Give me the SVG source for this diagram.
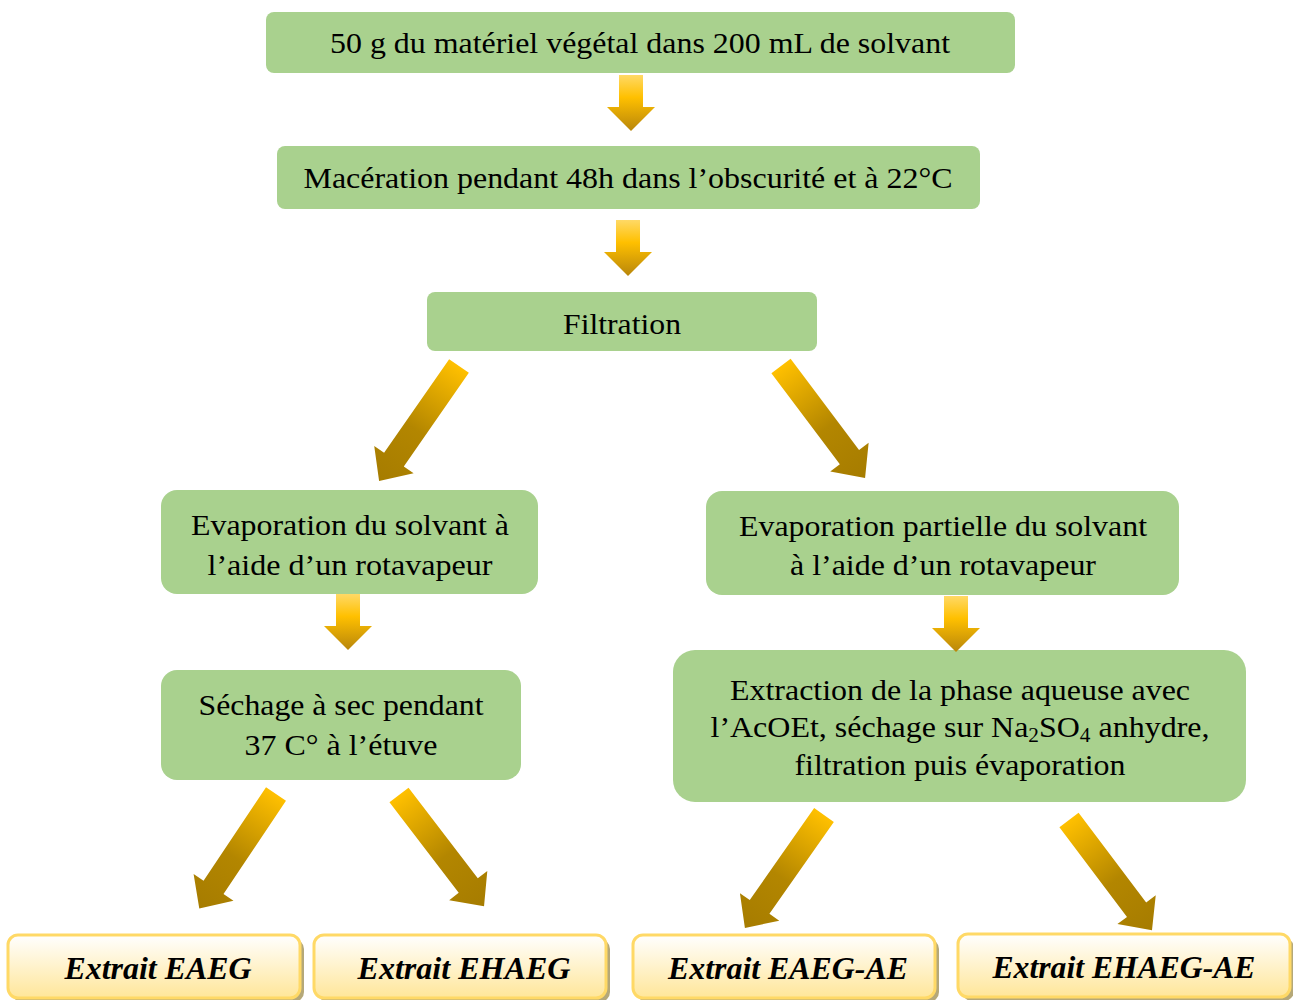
<svg xmlns="http://www.w3.org/2000/svg" width="1293" height="1000" viewBox="0 0 1293 1000">
<defs>
<linearGradient id="ag" x1="0" y1="0" x2="0" y2="1">
<stop offset="0" stop-color="#ffd966"/>
<stop offset="0.4" stop-color="#ffc000"/>
<stop offset="1" stop-color="#b8860b"/>
</linearGradient>
<linearGradient id="dg" x1="0" y1="0" x2="0" y2="1">
<stop offset="0" stop-color="#ffc000"/>
<stop offset="0.55" stop-color="#b38600"/>
<stop offset="1" stop-color="#a67c00"/>
</linearGradient>
<linearGradient id="yg" x1="0" y1="0" x2="0" y2="1">
<stop offset="0" stop-color="#ffffff"/>
<stop offset="1" stop-color="#ffe699"/>
</linearGradient>
<path id="down" d="M-12,0 L12,0 L12,32 L24,32 L0,56 L-24,32 L-12,32 Z"/>
<path id="diag" d="M-12,0 L12,0 L12,114 L24,114 L0,140 L-24,114 L-12,114 Z"/>
</defs>
<style>
.g{fill:#a9d18e}
.t{font-family:"Liberation Serif","Times New Roman",serif;font-size:30px;fill:#000;text-anchor:middle}
.b{font-family:"Liberation Serif","Times New Roman",serif;font-size:31px;font-weight:bold;font-style:italic;fill:#000;text-anchor:middle}
.y{fill:url(#yg);stroke:#ffd966;stroke-width:3}
.s{fill:#b5a878}
.da{fill:url(#ag)}
.dd{fill:url(#dg)}
</style>
<rect width="1293" height="1000" fill="#fff"/>

<g id="n1"><rect class="g" x="266" y="12" width="749" height="61" rx="8"/><text class="t" x="640" y="53" textLength="620" lengthAdjust="spacingAndGlyphs">50 g du matériel végétal dans 200 mL de solvant</text></g>
<g id="n2"><rect class="g" x="277" y="146" width="703" height="63" rx="8"/><text class="t" x="628" y="188" textLength="649" lengthAdjust="spacingAndGlyphs">Macération pendant 48h dans l’obscurité et à 22°C</text></g>
<g id="n3"><rect class="g" x="427" y="292" width="390" height="59" rx="8"/><text class="t" x="622" y="334" textLength="118" lengthAdjust="spacingAndGlyphs">Filtration</text></g>
<g id="n4"><rect class="g" x="161" y="490" width="377" height="104" rx="16"/><text class="t" x="350" y="535" textLength="318" lengthAdjust="spacingAndGlyphs">Evaporation du solvant à</text><text class="t" x="350" y="575" textLength="285" lengthAdjust="spacingAndGlyphs">l’aide d’un rotavapeur</text></g>
<g id="n5"><rect class="g" x="706" y="491" width="473" height="104" rx="16"/><text class="t" x="943" y="536" textLength="408" lengthAdjust="spacingAndGlyphs">Evaporation partielle du solvant</text><text class="t" x="943" y="575" textLength="306" lengthAdjust="spacingAndGlyphs">à l’aide d’un rotavapeur</text></g>
<g id="n6"><rect class="g" x="161" y="670" width="360" height="110" rx="16"/><text class="t" x="341" y="715" textLength="285" lengthAdjust="spacingAndGlyphs">Séchage à sec pendant</text><text class="t" x="341" y="755" textLength="193" lengthAdjust="spacingAndGlyphs">37 C° à l’étuve</text></g>
<g id="n7"><rect class="g" x="673" y="650" width="573" height="152" rx="22"/><text class="t" x="960" y="700" textLength="460" lengthAdjust="spacingAndGlyphs">Extraction de la phase aqueuse avec</text><text class="t" x="960" y="737" textLength="499" lengthAdjust="spacingAndGlyphs">l’AcOEt, séchage sur Na<tspan font-size="20" dy="5">2</tspan><tspan dy="-5">SO</tspan><tspan font-size="20" dy="5">4</tspan><tspan dy="-5"> anhydre,</tspan></text><text class="t" x="960" y="775" textLength="331" lengthAdjust="spacingAndGlyphs">filtration puis évaporation</text></g>

<g id="n8"><rect class="s" x="12" y="939" width="292" height="63" rx="10"/><rect class="y" x="8" y="935" width="292" height="63" rx="10"/><text class="b" x="158" y="979" textLength="187" lengthAdjust="spacingAndGlyphs">Extrait EAEG</text></g>
<g id="n9"><rect class="s" x="318" y="939" width="292" height="63" rx="10"/><rect class="y" x="314" y="935" width="292" height="63" rx="10"/><text class="b" x="464" y="979" textLength="213" lengthAdjust="spacingAndGlyphs">Extrait EHAEG</text></g>
<g id="n10"><rect class="s" x="637" y="939" width="302" height="63" rx="10"/><rect class="y" x="633" y="935" width="302" height="63" rx="10"/><text class="b" x="788" y="979" textLength="240" lengthAdjust="spacingAndGlyphs">Extrait EAEG-AE</text></g>
<g id="n11"><rect class="s" x="962" y="938" width="332" height="63" rx="10"/><rect class="y" x="958" y="934" width="332" height="63" rx="10"/><text class="b" x="1124" y="978" textLength="263" lengthAdjust="spacingAndGlyphs">Extrait EHAEG-AE</text></g>

<g id="connectors">
<use href="#down" class="da" transform="translate(631,75)"/>
<use href="#down" class="da" transform="translate(628,220)"/>
<use href="#down" class="da" transform="translate(348,594)"/>
<use href="#down" class="da" transform="translate(956,596)"/>
<use href="#diag" class="dd" transform="translate(459,366) rotate(34.8)"/>
<use href="#diag" class="dd" transform="translate(781,366) rotate(-36.9)"/>
<use href="#diag" class="dd" transform="translate(276,794) rotate(33.8) scale(1,0.985)"/>
<use href="#diag" class="dd" transform="translate(399,795) rotate(-37.4)"/>
<use href="#diag" class="dd" transform="translate(824,815) rotate(35) scale(1,0.985)"/>
<use href="#diag" class="dd" transform="translate(1069,820) rotate(-37) scale(1,0.985)"/>
</g>
</svg>
